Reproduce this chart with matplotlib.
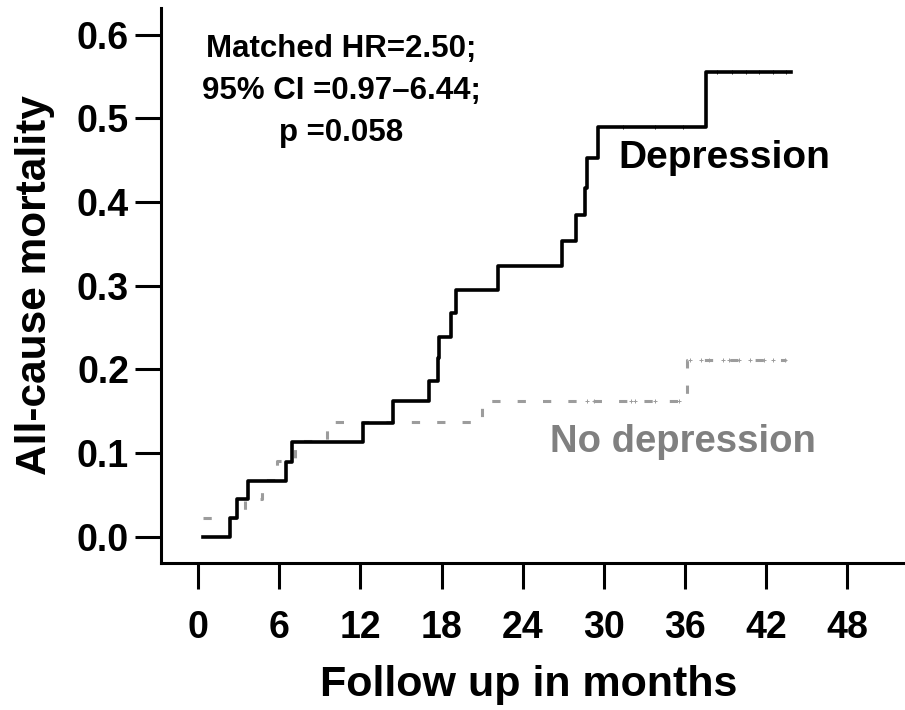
import numpy as np
import matplotlib
matplotlib.use("Agg")
import matplotlib.pyplot as plt

plt.rcParams['font.family'] = ['Liberation Sans', 'DejaVu Sans']
plt.rcParams['font.weight'] = 'bold'

# cumulative all-cause mortality (Kaplan-Meier, 1 - S)
dep_months = [0.35, 2.34, 2.86, 3.68, 6.49, 6.93, 12.18, 14.4, 17.06, 17.75, 17.85,
              18.7, 19.1, 22.2, 26.9, 27.95, 28.6, 28.75, 29.6, 37.55, 43.9]
dep_risk = [0.0, 0.022, 0.045, 0.067, 0.089, 0.113, 0.136, 0.162, 0.186, 0.214, 0.239,
            0.267, 0.295, 0.324, 0.353, 0.385, 0.417, 0.453, 0.490, 0.556, 0.556]
dep_censor = [31.4, 33.8, 35.9, 38.4, 39.5, 40.5, 41.5, 42.5, 43.5]

nodep_months = [0.35, 3.45, 4.7, 5.8, 7.15, 9.5, 20.97, 36.15, 43.5]
nodep_risk = [0.022, 0.045, 0.068, 0.091, 0.114, 0.137, 0.162, 0.211, 0.211]
nodep_censor = [28.8, 29.3, 32.0, 32.3, 33.8, 35.6, 36.4, 37.2, 37.8, 38.8,
                39.3, 40.0, 40.8, 41.9, 42.5, 43.4]

x_ticks = [0, 6, 12, 18, 24, 30, 36, 42, 48]
y_ticks = [0.0, 0.1, 0.2, 0.3, 0.4, 0.5, 0.6]
annot_lines = ["Matched HR=2.50;", "95% CI =0.97\u20136.44;", "p =0.058"]


def at_step(months, risk, t):
    idx = np.searchsorted(months, t, side='right') - 1
    return np.asarray(risk)[idx]


fig = plt.figure(figsize=(9.05, 7.1), dpi=100)
ax = fig.add_axes([161 / 905, 147 / 710, 744 / 905, 555 / 710])

ax.step(nodep_months, nodep_risk, where='post', color='#9c9c9c', lw=2.2,
        linestyle=(0, (2.7, 5.6)))
ax.plot(nodep_censor, at_step(nodep_months, nodep_risk, nodep_censor), '+',
        color='#9c9c9c', ms=3.5, mew=0.7)
ax.step(dep_months, dep_risk, where='post', color='black', lw=2.6)
ax.plot(dep_censor, at_step(dep_months, dep_risk, dep_censor), '|',
        color='black', ms=3, mew=0.6)

ax.set_xlim(-2.76, 52.3)
ax.set_ylim(-0.0315, 0.632)
ax.set_xticks(x_ticks)
ax.set_yticks(y_ticks)
ax.set_yticklabels([f"{v:.1f}" for v in y_ticks])

for s in ['top', 'right']:
    ax.spines[s].set_visible(False)
for s in ['left', 'bottom']:
    ax.spines[s].set_linewidth(2.2)

ax.tick_params(axis='both', direction='out', length=18.5, width=2.2, labelsize=27)
ax.tick_params(axis='x', pad=15)
ax.tick_params(axis='y', pad=4.5)

ax.set_xlabel("Follow up in months", fontsize=31, fontweight='bold')
ax.xaxis.set_label_coords(0.4946, -0.184)
ax.set_ylabel("All-cause mortality", fontsize=30.5, fontweight='bold')
ax.yaxis.set_label_coords(-0.1425, 0.501)

for i, line in enumerate(annot_lines):
    fig.text(341 / 905, 1 - (57 + 42 * i) / 710, line, ha='center', va='baseline',
             fontsize=22.5, fontweight='bold')

fig.text(724 / 905, 1 - 168 / 710, "Depression", ha='center', va='baseline',
         fontsize=28, fontweight='bold', color='black')
fig.text(683 / 905, 1 - 452 / 710, "No depression", ha='center', va='baseline',
         fontsize=27.5, fontweight='bold', color='#808080')

fig.savefig("out.png", dpi=100)
